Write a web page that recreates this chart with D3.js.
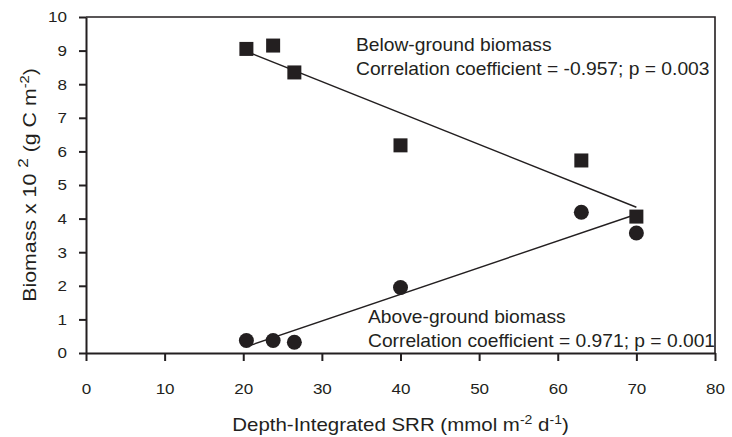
<!DOCTYPE html>
<meta charset="utf-8">
<style>
body { margin: 0; background: #fff; }
svg { display: block; }
text { font-family: "Liberation Sans", Arial, Helvetica, sans-serif; fill: #231f20; }
.axis path, .axis line { stroke: #231f20; stroke-width: 2; }
.axis text { font-size: 15.5px; }
.frame { stroke: #231f20; stroke-width: 1.6; fill: none; }
.fit { stroke: #231f20; stroke-width: 1.4; fill: none; }
.note { font-size: 17.5px; }
.title { font-size: 17.5px; }
</style>
<body>
<script src="https://cdn.jsdelivr.net/npm/d3@7"></script>
<script>
// data
var srr = [20.4, 23.8, 26.5, 40, 63, 70];
var belowGround = [9.05, 9.15, 8.35, 6.18, 5.73, 4.06];
var aboveGround = [0.37, 0.37, 0.32, 1.95, 4.19, 3.57];
var xTicks = [0, 10, 20, 30, 40, 50, 60, 70, 80];
var yTicks = [0, 1, 2, 3, 4, 5, 6, 7, 8, 9, 10];

var width = 732, height = 437;
var margin = {top: 17, right: 17, bottom: 84, left: 86};
var stretch = 1.1; // text in the figure is a bit wider than tall

var x = d3.scaleLinear().domain([0, 80]).range([margin.left, width - margin.right]);
var y = d3.scaleLinear().domain([0, 10]).range([height - margin.bottom, margin.top]);

var svg = d3.select("body").append("svg")
    .attr("width", width)
    .attr("height", height);

// frame top and right
svg.append("path")
    .attr("class", "frame")
    .attr("d", "M" + x(0) + "," + y(10) + "H" + x(80) + "V" + y(0));

var xAxis = svg.append("g")
    .attr("class", "axis")
    .attr("transform", "translate(0," + y(0) + ")")
    .call(d3.axisBottom(x).tickValues(xTicks).tickSizeInner(8).tickSizeOuter(0).tickPadding(22));
xAxis.selectAll(".tick text")
    .attr("transform", "scale(" + stretch + ",1)");

var yAxis = svg.append("g")
    .attr("class", "axis")
    .attr("transform", "translate(" + x(0) + ",0)")
    .call(d3.axisLeft(y).tickValues(yTicks).tickSizeInner(7).tickSizeOuter(0).tickPadding(11));
yAxis.selectAll(".tick text")
    .attr("transform", "scale(" + stretch + ",1)")
    .attr("x", -19 / stretch);

// least-squares fit lines
function fit(xs, ys) {
  var mx = d3.mean(xs), my = d3.mean(ys);
  var sxy = d3.sum(xs, function(v, i) { return (v - mx) * (ys[i] - my); });
  var sxx = d3.sum(xs, function(v) { return (v - mx) * (v - mx); });
  var b = sxy / sxx;
  return function(v) { return my + b * (v - mx); };
}
var line = d3.line().x(function(d) { return x(d[0]); }).y(function(d) { return y(d[1]); });
[belowGround, aboveGround].forEach(function(ys) {
  var f = fit(srr, ys);
  var ext = d3.extent(srr);
  svg.append("path")
      .attr("class", "fit")
      .attr("d", line([[ext[0], f(ext[0])], [ext[1], f(ext[1])]]));
});

// below-ground: squares
svg.selectAll(".sq")
    .data(srr)
    .enter().append("rect")
    .attr("class", "sq")
    .attr("x", function(d) { return x(d) - 7; })
    .attr("y", function(d, i) { return y(belowGround[i]) - 7; })
    .attr("width", 14)
    .attr("height", 14)
    .attr("fill", "#231f20");

// above-ground: circles
svg.selectAll(".dot")
    .data(srr)
    .enter().append("circle")
    .attr("class", "dot")
    .attr("cx", function(d) { return x(d); })
    .attr("cy", function(d, i) { return y(aboveGround[i]); })
    .attr("r", 7.5)
    .attr("fill", "#231f20");

// annotations
function note(px, py, lines) {
  var g = svg.append("g").attr("transform", "translate(" + px + "," + py + ") scale(" + stretch + ",1)");
  lines.forEach(function(t, i) {
    g.append("text").attr("class", "note").attr("y", i * 24).text(t);
  });
}
note(356, 51, ["Below-ground biomass", "Correlation coefficient = -0.957; p = 0.003"]);
note(368, 323, ["Above-ground biomass", "Correlation coefficient = 0.971; p = 0.001"]);

// axis titles
var xt = svg.append("g")
    .attr("transform", "translate(" + (x(0) + x(80)) / 2 + ",431) scale(1.17,1)")
    .append("text")
    .attr("class", "title")
    .attr("text-anchor", "middle");
xt.append("tspan").text("Depth-Integrated SRR (mmol m");
xt.append("tspan").attr("dy", -7).attr("font-size", "12px").text("-2");
xt.append("tspan").attr("dy", 7).text(" d");
xt.append("tspan").attr("dy", -7).attr("font-size", "12px").text("-1");
xt.append("tspan").attr("dy", 7).text(")");

var yt = svg.append("g")
    .attr("transform", "translate(36," + (y(0) + y(10)) / 2 + ") rotate(-90) scale(1.22,1)")
    .append("text")
    .attr("class", "title")
    .attr("text-anchor", "middle");
yt.append("tspan").text("Biomass x 10 ");
yt.append("tspan").attr("dy", -8).attr("font-size", "14px").text("2");
yt.append("tspan").attr("dy", 8).text("  (g C m");
yt.append("tspan").attr("dy", -7).attr("font-size", "12px").text("-2");
yt.append("tspan").attr("dy", 7).text(")");
</script>
</body>
